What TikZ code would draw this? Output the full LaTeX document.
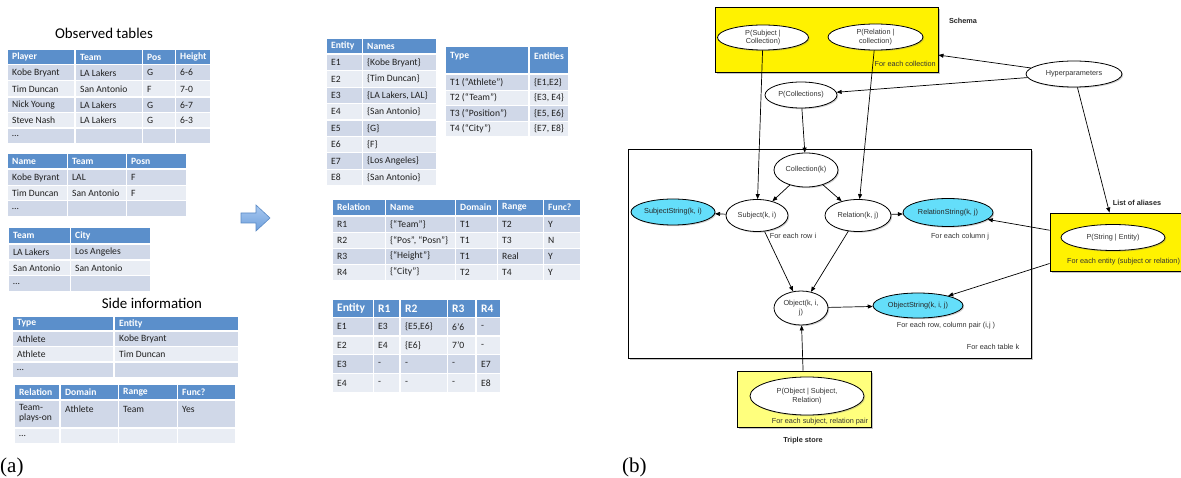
\documentclass[tikz,border=0pt]{standalone}
\usepackage{fontspec}
\setmainfont{Carlito}
\newfontfamily\helv{Liberation Sans}
\newfontfamily\tms{Liberation Serif}
\usetikzlibrary{arrows.meta,shadows,shapes.geometric}
\definecolor{hdr}{HTML}{5B8FCB}
\definecolor{bandA}{HTML}{D0D8E8}
\definecolor{bandB}{HTML}{E9EDF4}
\definecolor{cyanish}{RGB}{100,222,250}
\definecolor{lightyel}{RGB}{255,255,125}
\definecolor{arrtop}{HTML}{A9C9F1}
\definecolor{arrbot}{HTML}{6E9FDB}
\definecolor{arredge}{HTML}{5A8AC6}
\newcounter{cellno}
\newcommand\mytrow[5]{%
  \foreach \xa/\xb/\tx in {#5}{%
    \fill[#3] (\xa,#1) rectangle (\xb,#2);
    \stepcounter{cellno}%
    \node[#4, name=tc\arabic{cellno}] at ({\xa+4},{(#1+#2)/2}) {\tx};
  }}
\tikzset{
  btxt/.style={anchor=west, inner sep=0, font=\fontsize{9.6}{11}\selectfont, text=black!88},
  htxt/.style={anchor=west, inner sep=0, font=\bfseries\fontsize{9.6}{11}\selectfont, text=white},
  hbig/.style={htxt, font=\bfseries\fontsize{11.5}{13}\selectfont},
  ttl/.style={inner sep=0, font=\fontsize{14.9}{17}\selectfont},
  ell/.style={ellipse, draw, fill=white, inner sep=0, align=center, line width=0.8pt,
    font=\helv\fontsize{7.3}{8.6}\selectfont, text=black!80,
    drop shadow={shadow xshift=1.2pt,shadow yshift=-1.2pt,opacity=0.35}},
  cell/.style={ell, fill=cyanish, text=black!85},
  ybox/.style={draw, line width=0.9pt, fill=yellow, inner sep=0,
    drop shadow={shadow xshift=2pt,shadow yshift=-2pt,opacity=0.45}},
  arr/.style={-{Triangle[length=5pt,width=4pt]}, line width=0.7pt},
  lbl/.style={inner sep=0, font=\helv\fontsize{7.3}{8.6}\selectfont, text=black!80},
  blbl/.style={inner sep=0, font=\helv\bfseries\fontsize{7.3}{8.6}\selectfont, text=black!85},
}
\begin{document}
\begin{tikzpicture}[x=1pt,y=-1pt]
\useasboundingbox (0,0) rectangle (1181,478);
\fill[white] (0,0) rectangle (1181,478);
% ---------------- (a) left tables
\node[ttl] (t1title) at (104,33) {Observed tables};
\mytrow{50}{64}{hdr}{htxt}{8/74/Player,76/142/Team,143/175/Pos,176/210/Height}
\mytrow{65.5}{80}{bandA}{btxt}{8/74/Kobe Bryant,76/142/LA Lakers,143/175/G,176/210/6-6}
\mytrow{81.5}{96.5}{bandB}{btxt}{8/74/Tim Duncan,76/142/San Antonio,143/175/F,176/210/7-0}
\mytrow{98}{112.5}{bandA}{btxt}{8/74/Nick Young,76/142/LA Lakers,143/175/G,176/210/6-7}
\mytrow{113.5}{127.5}{bandB}{btxt}{8/74/Steve Nash,76/142/LA Lakers,143/175/G,176/210/6-3}
\mytrow{129}{143}{bandA}{btxt}{8/74/…,76/142/{},143/175/{},176/210/{}}

\mytrow{154}{168}{hdr}{htxt}{8/67/Name,68/126/Team,127/186/Posn}
\mytrow{170}{185}{bandA}{btxt}{8/67/Kobe Byrant,68/126/LAL,127/186/F}
\mytrow{186}{200}{bandB}{btxt}{8/67/Tim Duncan,68/126/San Antonio,127/186/F}
\mytrow{201.5}{216}{bandA}{btxt}{8/67/…,68/126/{},127/186/{}}

\mytrow{228}{243}{hdr}{htxt}{9/70/Team,71/150/City}
\mytrow{245}{259.5}{bandA}{btxt}{9/70/LA Lakers,71/150/Los Angeles}
\mytrow{261}{275}{bandB}{btxt}{9/70/San Antonio,71/150/San Antonio}
\mytrow{276.5}{291}{bandA}{btxt}{9/70/…,71/150/{}}

\node[ttl] (t2title) at (152,303) {Side information};
\mytrow{317}{330}{hdr}{htxt}{13/113/Type,115/238/Entity}
\mytrow{332}{346}{bandA}{btxt}{13/113/Athlete,115/238/Kobe Bryant}
\mytrow{347.5}{361.5}{bandB}{btxt}{13/113/Athlete,115/238/Tim Duncan}
\mytrow{363}{377}{bandA}{btxt}{13/113/…,115/238/{}}

\mytrow{385}{399}{hdr}{htxt}{15/59/Relation,61/118/Domain,119/177/Range,178/235/Func?}
\fill[bandA] (15,401) rectangle (59,427);
\fill[bandA] (61,401) rectangle (118,427);
\fill[bandA] (119,401) rectangle (177,427);
\fill[bandA] (178,401) rectangle (235,427);
\node[btxt, anchor=north west, align=left, font=\fontsize{9.6}{10.5}\selectfont] (tpo) at (19,404) {Team-\\plays-on};
\node[btxt] (tath) at (65,409) {Athlete};
\node[btxt] (tteam) at (123,409) {Team};
\node[btxt] (tyes) at (182,409) {Yes};
\mytrow{428.5}{442.5}{bandB}{btxt}{15/59/…,61/118/{},119/177/{},178/235/{}}

\node[inner sep=0, anchor=west, font=\tms\fontsize{21}{24}\selectfont] (la) at (0,467) {(a)};

% ---------------- blue arrow
\path[draw=arredge, line width=0.6pt, top color=arrtop, bottom color=arrbot]
  (241,213) -- (256,213) -- (256,205) -- (270,218) -- (256,231) -- (256,223) -- (241,223) -- cycle;

% ---------------- middle tables
\mytrow{39}{53}{hdr}{htxt}{327/362/Entity,363/436/Names}
\mytrow{55}{70.2}{bandA}{btxt}{327/362/E1,363/436/{\{Kobe Bryant\}}}
\mytrow{71.4}{86.6}{bandB}{btxt}{327/362/E2,363/436/{\{Tim Duncan\}}}
\mytrow{87.8}{103}{bandA}{btxt}{327/362/E3,363/436/{\{LA Lakers, LAL\}}}
\mytrow{104.2}{119.4}{bandB}{btxt}{327/362/E4,363/436/{\{San Antonio\}}}
\mytrow{120.6}{135.8}{bandA}{btxt}{327/362/E5,363/436/{\{G\}}}
\mytrow{137}{152.2}{bandB}{btxt}{327/362/E6,363/436/{\{F\}}}
\mytrow{153.4}{168.6}{bandA}{btxt}{327/362/E7,363/436/{\{Los Angeles\}}}
\mytrow{169.8}{185}{bandB}{btxt}{327/362/E8,363/436/{\{San Antonio\}}}

\fill[hdr] (446,47) rectangle (528,73);
\fill[hdr] (530,47) rectangle (568,73);
\node[htxt] (hty) at (450,56) {Type};
\node[htxt] (hen) at (534,56) {Entities};
\mytrow{75}{89.6}{bandA}{btxt}{446/528/T1 (“Athlete”),530/568/{\{E1,E2\}}}
\mytrow{90.6}{105.2}{bandB}{btxt}{446/528/T2 (“Team”),530/568/{\{E3, E4\}}}
\mytrow{106.2}{120.8}{bandA}{btxt}{446/528/T3 (“Position”),530/568/{\{E5, E6\}}}
\mytrow{121.8}{136.4}{bandB}{btxt}{446/528/T4 (“City”),530/568/{\{E7, E8\}}}

\mytrow{200}{215}{hdr}{htxt}{333/385/Relation,386/455/Name,456/497/Domain,498/543/Range,544/580/Func?}
\mytrow{217}{232}{bandA}{btxt}{333/385/R1,386/455/{\{“Team”\}},456/497/T1,498/543/T2,544/580/Y}
\mytrow{232.9}{247.9}{bandB}{btxt}{333/385/R2,386/455/{\{“Pos”, “Posn”\}},456/497/T1,498/543/T3,544/580/N}
\mytrow{248.8}{263.8}{bandA}{btxt}{333/385/R3,386/455/{\{“Height”\}},456/497/T1,498/543/Real,544/580/Y}
\mytrow{264.7}{279.7}{bandB}{btxt}{333/385/R4,386/455/{\{“City”\}},456/497/T2,498/543/T4,544/580/Y}

\mytrow{300}{317}{hdr}{hbig}{333/373/Entity,374/399/R1,401/447/R2,448/475/R3,477/500/R4}
\mytrow{318}{335.5}{bandA}{btxt}{333/373/E1,374/399/E3,401/447/{\{E5,E6\}},448/475/6’6,477/500/-}
\mytrow{336.75}{354.25}{bandB}{btxt}{333/373/E2,374/399/E4,401/447/{\{E6\}},448/475/7’0,477/500/-}
\mytrow{355.5}{373}{bandA}{btxt}{333/373/E3,374/399/-,401/447/-,448/475/-,477/500/E7}
\mytrow{374.25}{391.75}{bandB}{btxt}{333/373/E4,374/399/-,401/447/-,448/475/-,477/500/E8}

% ---------------- (b) graphical model
\node[ybox, minimum width=223pt, minimum height=65pt] (schema) at (826.5,39.5) {};
\node[ybox, fill=white, minimum width=403pt, minimum height=209pt] (tablebox) at (829.5,253.5) {};
\node[ybox, minimum width=134pt, minimum height=58pt] (psebox) at (1117,242) {};
\node[ybox, fill=lightyel, minimum width=134pt, minimum height=56pt] (tsbox) at (804,399) {};

\node[lbl, anchor=east] (fecol) at (936,64) {For each collection};
\node[blbl] (schemalbl) at (963,21) {Schema};
\node[lbl] (ferow) at (793,236) {For each row i};
\node[lbl] (fecolumn) at (960,237) {For each column j};
\node[lbl] (fepair) at (946,326) {For each row, column pair (i,j )};
\node[lbl] (fetable) at (993,347) {For each table k};
\node[lbl, anchor=west] (feent) at (1067,262) {For each entity (subject or relation)};
\node[blbl] (alias) at (1137,203) {List of aliases};
\node[lbl] (fesr) at (820,422) {For each subject, relation pair};
\node[blbl] (tslbl) at (803,441) {Triple store};

\node[ell, minimum width=91pt, minimum height=25pt] (psc) at (763,37.5) {P(Subject |\\Collection)};
\node[ell, minimum width=95pt, minimum height=26pt] (prc) at (875.5,37) {P(Relation |\\collection)};
\node[ell, minimum width=72pt, minimum height=26pt] (pcol) at (801,95) {P(Collections)};
\node[ell, minimum width=96pt, minimum height=26pt] (hyp) at (1074,74) {Hyperparameters};
\node[ell, minimum width=64pt, minimum height=34pt] (colk) at (806,170) {Collection(k)};
\node[ell, minimum width=62pt, minimum height=32pt] (subj) at (757,215.5) {Subject(k, i)};
\node[ell, minimum width=66pt, minimum height=32pt] (rel) at (858,215.5) {Relation(k, j)};
\node[cell, minimum width=84pt, minimum height=26pt] (sstr) at (673,212) {SubjectString(k, i)};
\node[cell, minimum width=90pt, minimum height=28pt] (rstr) at (948,212.5) {RelationString(k, j)};
\node[ell, minimum width=54pt, minimum height=34pt] (obj) at (801,308) {Object(k, i,\\j)};
\node[cell, minimum width=90pt, minimum height=25pt] (ostr) at (918,305.5) {ObjectString(k, i, j)};
\node[ell, minimum width=104pt, minimum height=26pt] (pse) at (1113,237.5) {P(String | Entity)};
\node[ell, minimum width=114pt, minimum height=38pt] (pos) at (807,396) {P(Object | Subject,\\Relation)};

\draw[arr] (hyp) -- (schema);
\draw[arr] (hyp) -- (pcol);
\draw[arr] (hyp) -- (psebox);
\draw[arr] (psc) -- (subj);
\draw[arr] (prc) -- (rel);
\draw[arr] (pcol) -- (colk);
\draw[arr] (colk) -- (subj);
\draw[arr] (colk) -- (rel);
\draw[arr] (subj) -- (sstr);
\draw[arr] (rel) -- (rstr);
\draw[arr] (subj) -- (obj);
\draw[arr] (rel) -- (obj);
\draw[arr] (obj) -- (ostr);
\draw[arr] (psebox) -- (rstr);
\draw[arr] (psebox) -- (ostr);
\draw[arr] (tsbox) -- (obj);

\node[inner sep=0, anchor=west, font=\tms\fontsize{21}{24}\selectfont] (lb) at (622,467) {(b)};
\end{tikzpicture}
\end{document}
